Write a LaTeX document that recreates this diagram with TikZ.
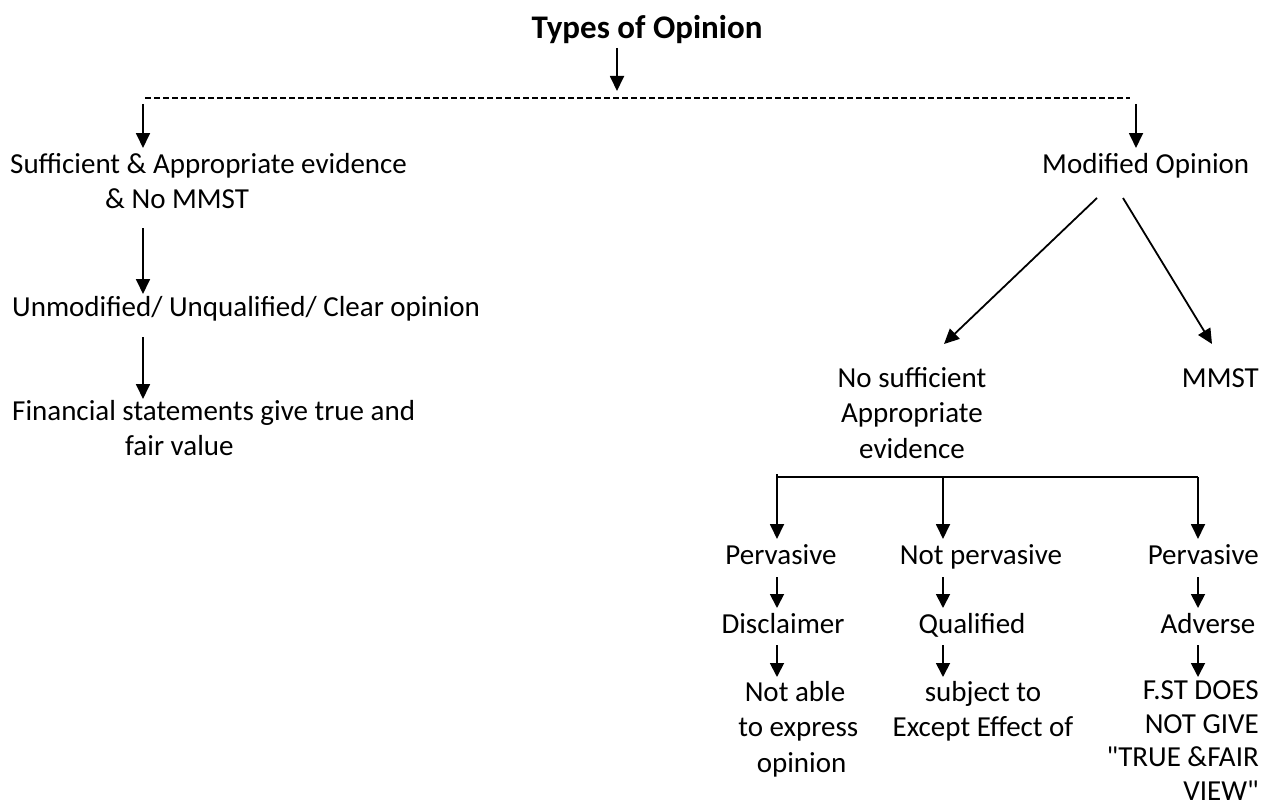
\documentclass[tikz,border=0pt]{standalone}
\usepackage{fontspec}
\setmainfont{Carlito}[Ligatures=TeXOff]
\usetikzlibrary{arrows.meta}
\begin{document}
\begin{tikzpicture}[x=1pt,y=-1pt,
  txt/.style={inner sep=0pt, font=\fontsize{29}{35.5}\selectfont},
  ttl/.style={inner sep=0pt, font=\fontsize{33}{40}\selectfont\bfseries},
  arr/.style={line width=1.8pt, -{Triangle[width=14pt,length=15pt]}},
  sarr/.style={line width=1.8pt, -{Triangle[width=14pt,length=14pt]}},
  dashline/.style={line width=1.3pt, dash pattern=on 6pt off 3pt},
  bar/.style={line width=1.8pt}]
\useasboundingbox (0,0) rectangle (1270,808);
% title
\node[ttl, anchor=base] (title) at (647,39) {Types of Opinion};
\coordinate (t1) at (617,48); \coordinate (t2) at (617,91);
\draw[arr] (t1) -- (t2);
\coordinate (dl) at (145,98); \coordinate (dr) at (1130,98);
\draw[dashline] (dl) -- (dr);
% left branch
\coordinate (l1s) at (143,104); \coordinate (l1e) at (143,148);
\draw[arr] (l1s) -- (l1e);
\node[txt, anchor=base west, align=left] (suff) at (10,208.5) {Sufficient \& Appropriate evidence\\\hspace*{95pt}\& No MMST};
\coordinate (l2s) at (143,228); \coordinate (l2e) at (143,294);
\draw[arr] (l2s) -- (l2e);
\node[txt, anchor=base west] (unmod) at (12,316) {Unmodified/ Unqualified/ Clear opinion};
\coordinate (l3s) at (143,337); \coordinate (l3e) at (143,399);
\draw[arr] (l3s) -- (l3e);
\node[txt, anchor=base west, align=left] (fin) at (12,455.5) {Financial statements give true and\\\hspace*{113pt}fair value};
% right branch
\coordinate (r1s) at (1136,104); \coordinate (r1e) at (1136,148);
\draw[arr] (r1s) -- (r1e);
\node[txt, anchor=base west] (mod) at (1042,173) {Modified Opinion};
\coordinate (d1s) at (1097,198); \coordinate (d1e) at (944,344);
\coordinate (d2s) at (1123,198); \coordinate (d2e) at (1212,344);
\draw[arr] (d1s) -- (d1e);
\draw[arr] (d2s) -- (d2e);
\node[txt, anchor=base, align=center] (nosuff) at (912,458) {No sufficient\\Appropriate\\evidence};
\node[txt, anchor=base east] (mmst) at (1259,387) {MMST};
% bracket
\coordinate (b1) at (777,477); \coordinate (b2) at (943,477); \coordinate (b3) at (1198,477);
\draw[bar] (b1) -- (b3);
\coordinate (b1t) at (777,474);
\coordinate (c1) at (777,539); \coordinate (c2) at (943,539); \coordinate (c3) at (1198,539);
\draw[arr] (b1t) -- (c1);
\draw[arr] (b2) -- (c2);
\draw[arr] (b3) -- (c3);
\node[txt, anchor=base] (perv1) at (781,564) {Pervasive};
\node[txt, anchor=base] (notperv) at (981,564) {Not pervasive};
\node[txt, anchor=base east] (perv2) at (1259,564) {Pervasive};
\coordinate (s1a) at (777,577); \coordinate (s1b) at (777,608);
\coordinate (s2a) at (943,577); \coordinate (s2b) at (943,608);
\coordinate (s3a) at (1198,577); \coordinate (s3b) at (1198,608);
\draw[sarr] (s1a) -- (s1b);
\draw[sarr] (s2a) -- (s2b);
\draw[sarr] (s3a) -- (s3b);
\node[txt, anchor=base] (disc) at (783,633) {Disclaimer};
\node[txt, anchor=base] (qual) at (972,633) {Qualified};
\node[txt, anchor=base] (adv) at (1208,633) {Adverse};
\coordinate (u1a) at (777,645); \coordinate (u1b) at (777,677);
\coordinate (u2a) at (943,645); \coordinate (u2b) at (943,677);
\coordinate (u3a) at (1198,645); \coordinate (u3b) at (1198,677);
\draw[sarr] (u1a) -- (u1b);
\draw[sarr] (u2a) -- (u2b);
\draw[sarr] (u3a) -- (u3b);
\node[txt, anchor=base, align=center] (notable) at (795,772) {Not able\\\ to express\\\ \ opinion};
\node[txt, anchor=base, align=center] (subj) at (983,736.5) {subject to\\Except Effect of};
\node[txt, anchor=base east, align=right, font=\fontsize{29}{33.5}\selectfont] (fst) at (1259,800) {F.ST DOES\\NOT GIVE\\"TRUE \&FAIR\\VIEW"};
\end{tikzpicture}
\end{document}
